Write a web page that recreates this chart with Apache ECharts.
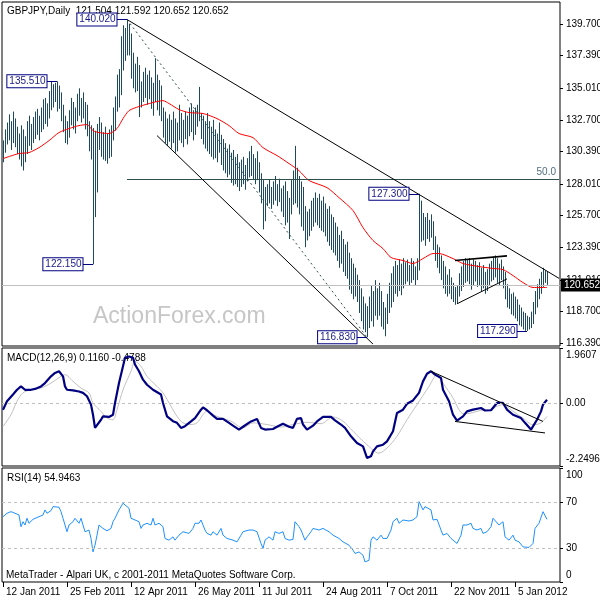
<!DOCTYPE html>
<html><head><meta charset="utf-8">
<script src="https://cdn.jsdelivr.net/npm/echarts@6/dist/echarts.min.js"></script>
<style>html,body{margin:0;padding:0;background:#fff}#c{width:600px;height:600px}</style>
</head><body><div id="c"></div>
<script>
// ---------- DATA ----------
const highs = [
131.2,132.0,132.5,133.1,132.6,133.3,132.8,132.2,131.7,132.3,
132.0,131.5,132.6,133.0,132.4,132.9,133.3,133.5,133.0,133.6,
134.2,134.3,133.9,134.8,135.5,135.3,135.4,135.51,135.2,134.7,
133.8,133.0,132.6,133.4,134.3,134.0,133.6,134.6,135.0,134.3,
134.7,134.0,133.8,132.6,132.3,132.1,131.9,132.4,132.9,132.5,
131.8,132.2,131.7,132.0,132.3,133.6,134.4,136.0,136.4,138.8,
139.6,139.4,140.02,139.7,139.0,137.6,136.8,137.3,136.7,135.5,
136.2,136.5,136.0,136.3,135.8,135.4,137.2,136.0,135.6,135.2,
133.6,133.3,132.8,133.1,132.7,133.3,132.8,132.5,133.8,133.2,
132.7,133.3,133.0,133.6,133.9,133.4,133.6,133.8,135.1,133.2,
133.0,132.6,133.2,132.6,132.2,132.7,132.0,131.7,132.5,131.6,
131.3,131.0,130.6,130.9,130.3,130.5,130.0,130.2,129.6,129.8,
130.0,129.4,129.9,130.4,130.8,130.2,129.9,130.4,129.6,128.8,
128.3,127.8,128.0,128.3,127.8,128.2,128.6,128.0,128.4,127.7,
127.9,128.2,127.5,127.0,128.3,129.0,130.8,129.2,128.6,128.2,
127.8,126.4,126.0,126.2,126.8,127.0,127.4,127.0,127.3,126.8,
127.1,126.6,126.2,126.4,125.8,125.6,125.2,124.9,124.3,124.6,
124.0,123.6,123.8,123.0,122.6,122.2,121.9,121.4,121.0,120.4,
119.8,119.3,119.1,119.8,120.6,120.2,121.0,120.4,120.8,120.2,
119.4,119.0,120.0,120.8,121.5,122.0,122.4,122.1,122.5,122.2,
122.6,122.3,122.5,122.1,122.6,122.4,122.0,122.6,127.3,126.8,
125.9,125.6,125.9,125.4,125.8,125.3,124.2,123.6,123.4,122.8,
122.4,122.0,121.4,121.8,121.2,120.8,120.5,120.6,121.5,122.0,
122.4,122.6,122.5,122.6,122.2,122.5,122.4,122.1,122.3,121.9,
122.1,121.6,121.8,122.2,122.4,122.7,122.8,122.6,122.2,122.5,
122.0,121.6,120.7,120.4,120.0,120.1,119.8,119.6,119.2,119.0,
118.7,118.6,118.4,118.3,118.7,119.4,120.2,120.7,121.1,121.6,
121.9,121.7,121.592];
const lows = [
129.6,130.3,130.9,131.2,130.5,131.0,130.7,130.2,129.8,129.3,
129.0,129.6,130.2,130.8,130.5,131.0,131.3,131.6,131.2,131.8,
132.0,132.4,132.2,132.8,133.4,133.6,134.0,133.3,133.5,132.6,
131.8,131.0,130.9,131.4,132.3,132.0,131.7,132.6,133.0,132.5,
132.8,132.0,131.5,130.4,129.8,122.15,125.6,127.4,130.5,130.0,
129.8,129.7,129.5,129.9,130.0,131.2,131.9,133.3,133.6,134.5,
136.3,137.0,137.4,137.4,135.7,135.0,134.7,134.8,132.9,133.6,
134.0,134.3,133.8,134.2,133.5,133.0,134.0,133.4,133.0,132.6,
131.4,131.0,130.8,131.1,130.6,131.0,130.3,130.4,131.2,131.0,
130.7,131.3,130.9,131.5,131.8,131.2,131.6,132.2,132.6,131.3,
130.9,130.6,130.4,130.2,130.0,129.8,129.9,129.6,130.3,129.4,
129.0,128.8,128.5,128.7,128.1,127.9,128.0,127.8,127.5,127.8,
128.0,127.6,128.2,128.5,128.6,128.3,128.0,128.3,127.4,126.6,
124.7,125.3,126.4,126.6,126.2,126.5,126.8,126.4,126.7,126.0,
125.6,125.0,125.2,124.0,125.8,126.5,126.6,126.3,125.8,124.9,
124.6,123.4,123.9,124.2,124.6,124.9,125.2,125.0,124.8,124.6,
124.5,124.2,123.8,123.5,123.2,123.0,122.8,122.4,121.9,122.2,
121.6,121.3,121.1,120.3,120.0,119.6,119.8,119.4,118.6,118.0,
117.4,117.2,116.83,117.5,118.0,117.6,118.4,118.1,118.4,117.6,
117.4,116.9,117.8,118.6,119.0,119.4,120.0,119.8,120.2,119.9,
120.4,120.7,120.9,120.6,120.8,121.0,120.6,121.0,121.7,123.8,
123.9,123.5,124.0,123.8,124.1,123.2,122.4,121.9,121.5,121.0,
120.4,120.0,119.8,120.0,119.6,119.4,119.2,119.3,119.8,120.2,
120.5,120.8,120.9,120.7,120.3,120.6,120.9,120.5,120.6,120.2,
120.4,120.0,120.2,120.6,120.9,121.0,121.2,120.8,120.6,121.0,
120.4,119.6,119.0,118.9,118.5,118.4,118.2,118.0,117.7,117.6,
117.4,117.3,117.29,117.4,117.5,117.8,118.5,119.0,119.6,120.0,
120.5,120.8,120.652];
// moving average, [bar, value]
const maPts = [[0,129.87],[8,130.24],[13,130.31],[18,130.67],[23,131.18],[28,131.77],[33,132.06],[38,132.28],[42,132.35],[45,131.91],[48,131.77],[53,131.70],[57,132.06],[60,132.79],[63,133.37],[68,133.67],[75,133.96],[80,134.10],[83,133.89],[88,133.45],[93,133.23],[100,133.16],[107,132.79],[113,132.28],[118,131.70],[125,131.40],[130,130.67],[137,130.09],[143,129.51],[148,128.99],[153,128.27],[162,127.75],[168,127.02],[175,126.08],[180,124.83],[185,123.89],[190,123.30],[194,122.65],[200,122.43],[205,122.21],[210,122.57],[215,122.94],[218,122.94],[225,122.57],[230,122.21],[238,121.99],[245,121.85],[250,121.77],[255,121.33],[260,120.82],[265,120.46],[272,120.46]];
const macdPts = [[0,-0.24],[2,0.06],[5,0.30],[7,0.47],[9,0.59],[11,0.47],[14,0.47],[16,0.50],[19,0.59],[21,0.71],[24,0.95],[26,1.07],[28,1.13],[30,0.95],[31,0.59],[32,0.47],[35,0.45],[38,0.41],[40,0.36],[42,0.24],[44,-0.06],[45,-0.42],[46,-0.89],[47,-0.83],[49,-0.60],[50,-0.48],[53,-0.50],[55,-0.42],[56,0],[58,0.71],[60,1.31],[61,1.61],[63,1.66],[65,1.61],[66,1.37],[68,1.13],[70,0.83],[72,0.65],[75,0.47],[76,0.41],[79,0.30],[80,0],[82,-0.48],[85,-0.65],[87,-0.71],[89,-0.89],[91,-0.83],[94,-0.66],[96,-0.54],[99,-0.24],[100,-0.16],[102,-0.26],[105,-0.45],[107,-0.57],[110,-0.57],[113,-0.71],[115,-0.81],[118,-0.95],[120,-0.85],[124,-0.66],[127,-0.57],[129,-0.89],[131,-0.95],[135,-0.93],[137,-0.85],[140,-0.74],[143,-0.85],[145,-0.89],[147,-0.57],[149,-0.54],[150,-0.77],[152,-0.95],[155,-0.81],[157,-0.66],[160,-0.50],[164,-0.50],[166,-0.62],[169,-0.77],[171,-0.89],[174,-1.19],[177,-1.43],[180,-1.55],[182,-1.96],[184,-1.90],[185,-1.73],[187,-1.55],[190,-1.49],[192,-1.37],[195,-1.01],[197,-0.36],[200,-0.24],[202,-0.03],[205,0.09],[208,0.36],[210,0.77],[212,1.04],[214,1.13],[216,1.01],[219,0.89],[220,0.47],[223,0.06],[225,-0.42],[227,-0.63],[230,-0.48],[232,-0.30],[235,-0.24],[239,-0.18],[241,-0.27],[244,-0.26],[247,0.00],[250,0.00],[252,-0.24],[255,-0.42],[259,-0.54],[261,-0.71],[264,-0.95],[265,-0.89],[267,-0.60],[269,-0.30],[270,-0.06],[272,0.116]];
const signalPts = [[0,-0.84],[4,-0.42],[7,0.06],[10,0.36],[14,0.47],[19,0.53],[24,0.71],[29,0.95],[31,1.01],[35,0.77],[39,0.53],[43,0.36],[45,0],[49,-0.30],[52,-0.54],[55,-0.60],[57,-0.24],[60,0.47],[64,1.13],[66,1.49],[69,1.31],[72,0.95],[77,0.59],[80,0.36],[84,-0.12],[87,-0.48],[90,-0.71],[94,-0.77],[97,-0.71],[102,-0.30],[107,-0.48],[114,-0.65],[120,-0.89],[125,-0.71],[132,-0.77],[139,-0.86],[145,-0.77],[152,-0.69],[159,-0.74],[165,-0.50],[170,-0.65],[175,-1.01],[182,-1.49],[188,-1.79],[192,-1.61],[197,-1.19],[202,-0.60],[207,-0.06],[213,0.59],[217,1.01],[220,0.71],[225,0.18],[228,-0.24],[230,-0.38],[234,-0.36],[239,-0.26],[244,-0.24],[247,-0.12],[250,-0.06],[255,-0.30],[260,-0.54],[265,-0.78],[269,-0.71],[272,-0.479]];
const rsiPts = [[0,57.3],[2,60.3],[4,61.7],[5,62.6],[6,60.3],[7,61.7],[8,58.8],[9,48.5],[10,52.9],[11,50.0],[12,55.9],[13,51.5],[15,55.0],[16,55.9],[18,57.3],[20,58.8],[21,63.2],[22,60.3],[24,62.6],[25,66.1],[26,64.7],[28,65.6],[29,61.7],[30,55.9],[31,50.0],[32,44.1],[33,50.0],[35,52.9],[36,55.9],[38,51.5],[39,55.9],[40,50.0],[41,44.1],[43,45.6],[44,38.2],[45,26.4],[46,32.3],[47,41.1],[48,50.0],[49,51.5],[50,47.0],[52,44.9],[54,47.0],[55,52.9],[56,55.9],[58,63.2],[60,69.1],[61,67.6],[63,64.7],[64,55.9],[66,54.4],[68,52.9],[69,47.0],[70,50.0],[72,51.5],[74,50.0],[75,55.9],[76,50.0],[78,51.5],[80,48.5],[81,38.2],[83,36.7],[85,39.6],[86,36.7],[88,41.1],[90,44.1],[91,45.6],[93,42.6],[95,47.0],[96,51.5],[98,51.5],[99,54.4],[100,55.9],[101,45.6],[102,42.6],[104,41.1],[105,44.1],[107,41.1],[109,47.0],[110,41.1],[112,38.2],[113,39.6],[115,36.7],[117,35.2],[119,41.1],[120,44.1],[123,45.6],[125,45.6],[127,44.1],[129,33.8],[130,29.4],[131,36.7],[133,39.6],[135,36.7],[136,44.1],[138,42.6],[140,44.1],[141,38.2],[143,36.7],[145,37.4],[146,52.9],[148,48.5],[149,45.6],[150,44.1],[151,36.7],[152,39.6],[154,44.1],[155,47.0],[158,45.6],[160,47.0],[163,44.1],[165,41.1],[168,38.2],[170,35.2],[171,36.7],[173,32.3],[175,27.9],[176,25.0],[178,26.4],[180,23.5],[181,17.6],[182,16.2],[183,19.1],[184,36.7],[185,39.6],[187,36.7],[189,41.1],[190,38.2],[192,38.2],[194,45.6],[195,52.9],[197,55.9],[198,51.5],[200,54.4],[203,53.5],[205,54.4],[207,57.3],[208,70.5],[210,63.2],[211,66.1],[214,63.2],[215,54.4],[217,55.0],[219,45.6],[220,41.1],[222,42.6],[224,38.2],[225,37.4],[227,33.8],[229,41.1],[230,50.0],[232,50.0],[234,51.5],[235,47.0],[237,45.6],[239,47.0],[240,42.6],[242,44.1],[244,48.5],[245,55.9],[246,57.3],[248,50.0],[250,52.9],[251,39.6],[253,36.7],[255,41.1],[256,36.7],[258,35.2],[260,30.8],[261,29.4],[263,30.3],[265,33.8],[266,47.0],[268,51.5],[269,52.9],[270,61.7],[272,54.95]];
const priceTicks = [116.39,118.70,121.01,123.39,125.70,128.01,130.39,132.70,135.01,137.39,139.70];
const macdTicks = [1.9607, 0, -2.2496];
const rsiTicks = [100, 70, 30, 0];
const rsiLevels = [30, 70];
const dateLabels = ['12 Jan 2011','25 Feb 2011','12 Apr 2011','26 May 2011','11 Jul 2011','24 Aug 2011','7 Oct 2011','22 Nov 2011','5 Jan 2012'];
const labelEvery = 32;
const extraSlots = 6;
const pivots = [[62,140.02],[27,135.51],[45,122.15],[182,116.83],[262,117.29],[208,127.30]];
const lastPrice = 120.652;
const fibLevel = 128.33;
const fibText = '50.0';
const priceTrends = [[[62,140.02],[278,121.13]], [[77,131.55],[185,116.33]]];
const priceDashed = [[62,140.02],[182,116.83]];
const triangleTop = [[226,122.43],[252,122.77]];
const triangleBottom = [[227,119.27],[252,121.09]];
const macdTrends = [[[214,1.13],[270,-0.66]], [[226,-0.66],[271,-1.07]]];
const titleText = 'GBPJPY,Daily  121.504 121.592 120.652 120.652';
const macdText = 'MACD(12,26,9) 0.1160 -0.4788';
const rsiText = 'RSI(14) 54.9463';
const footText = 'MetaTrader - Alpari UK, c 2001-2011 MetaQuotes Software Corp.';
const watermark = 'ActionForex.com';

// ---------- CHART ----------
const FONT = "'Liberation Sans',Arial,sans-serif";
const FS = 10;
const BAR = '#1c4b5f', NAVY = '#000080';
const n = highs.length + extraSlots;
const cats = Array.from({length: n}, (_, i) => 'b' + i);
const bars = highs.map((h, i) => [i, lows[i], h]);
const showTick = (i) => i % labelEvery === 0 && i / labelEvery < dateLabels.length;

const grids = [
  {left: 2, right: 40, top: 2, height: 344},
  {left: 2, right: 40, top: 348, height: 118},
  {left: 2, right: 40, top: 468, height: 114}
].map(g => Object.assign(g, {show: true, borderColor: '#000', borderWidth: 1, backgroundColor: 'transparent',
  containLabel: false, outerBoundsMode: 'none'}));

const xAxes = [0, 1, 2].map(gi => ({
  type: 'category', gridIndex: gi, data: cats, boundaryGap: true, show: gi === 2,
  axisLine: {show: false},
  axisTick: {show: gi === 2, alignWithLabel: true, interval: (i) => showTick(i), length: 5, lineStyle: {color: '#000'}},
  axisLabel: {show: gi === 2, interval: (i) => showTick(i), formatter: (v, i) => dateLabels[i / labelEvery],
    align: 'left', padding: [0, 0, 0, 3], margin: 5, color: '#000', fontSize: FS, fontFamily: FONT},
  splitLine: {show: false}
}));

const edgeRich = {
  t: {padding: [14, 0, 0, 0], color: '#000', fontSize: FS, fontFamily: FONT},
  b: {padding: [0, 0, 14, 0], color: '#000', fontSize: FS, fontFamily: FONT}
};
function yAx(gi, min, max, ticks, fmt, edges) {
  return {
    type: 'value', gridIndex: gi, position: 'right', min: min, max: max,
    splitLine: {show: false}, axisLine: {show: false},
    axisTick: {show: true, length: 3, lineStyle: {color: '#000'}, customValues: ticks},
    axisLabel: {customValues: ticks, color: '#000', fontSize: FS, fontFamily: FONT, margin: 6, rich: edgeRich,
      formatter: (v) => {
        const s = fmt(v);
        if (edges && Math.abs(v - max) < 1e-9) return '{t|' + s + '}';
        if (edges && Math.abs(v - min) < 1e-9) return '{b|' + s + '}';
        return s;
      }}
  };
}

const seg = (a, b, style, extra) => [Object.assign({coord: a, lineStyle: style}, extra || {}), {coord: b}];
const blackLine = {color: '#000', width: 1, type: 'solid'};

const priceMarkLines = [
  {yAxis: lastPrice, lineStyle: {color: '#c0c0c0', width: 1, type: 'solid'},
   label: {show: true, position: 'end', distance: 1, formatter: lastPrice.toFixed(3), color: '#fff',
     backgroundColor: '#000', padding: [2, 3, 1, 3], fontSize: FS, fontFamily: FONT}},
  seg([62, fibLevel], [n - 1, fibLevel], {color: '#2f4f4f', width: 1, type: 'solid'},
    {label: {show: true, position: 'insideEndTop', formatter: fibText, color: '#4f6f7f', fontSize: FS, fontFamily: FONT, distance: [3, 2]}}),
  ...priceTrends.map(t => seg(t[0], t[1], blackLine)),
  seg(priceDashed[0], priceDashed[1], {color: '#2f4f4f', width: 1, type: [2, 3]}),
  seg(triangleTop[0], triangleTop[1], {color: '#000', width: 1.6, type: 'solid'}),
  seg(triangleBottom[0], triangleBottom[1], blackLine),
  ...pivots.map(p => seg([p[0] - 5, p[1]], p, {color: NAVY, width: 1, type: 'solid'}))
];

const option = {
  animation: false,
  textStyle: {fontFamily: FONT},
  grid: grids,
  xAxis: xAxes,
  yAxis: [
    yAx(0, 116.19, 141.30, priceTicks, v => v.toFixed(3), false),
    yAx(1, -2.2496, 1.9607, macdTicks, v => Math.abs(v) < 1e-9 ? '0.00' : v.toFixed(4), true),
    yAx(2, 0, 100, rsiTicks, v => String(v), true)
  ],
  graphic: [
    {type: 'text', x: 93, y: 317, z: 0, silent: true, style: {text: watermark, fontSize: 23, fontFamily: FONT, fill: '#c6c6c6', verticalAlign: 'middle'}},
    {type: 'text', x: 7, y: 11, z: 0, silent: true, style: {text: titleText, fontSize: FS, fontFamily: FONT, fill: '#000', verticalAlign: 'middle'}},
    {type: 'text', x: 7, y: 358.5, z: 0, silent: true, style: {text: macdText, fontSize: FS, fontFamily: FONT, fill: '#000', verticalAlign: 'middle'}},
    {type: 'text', x: 7, y: 478.5, z: 0, silent: true, style: {text: rsiText, fontSize: FS, fontFamily: FONT, fill: '#000', verticalAlign: 'middle'}},
    {type: 'text', x: 6, y: 575, z: 0, silent: true, style: {text: footText, fontSize: FS, fontFamily: FONT, fill: '#000', verticalAlign: 'middle'}}
  ],
  series: [
    {type: 'custom', xAxisIndex: 0, yAxisIndex: 0, data: bars, encode: {x: 0, y: [1, 2]}, z: 3, silent: true,
     renderItem: (params, api) => {
       const i = api.value(0);
       const lo = api.coord([i, api.value(1)]);
       const hi = api.coord([i, api.value(2)]);
       const x = Math.round(lo[0]) + 0.5;
       return {type: 'line', shape: {x1: x, y1: lo[1], x2: x, y2: hi[1]}, style: {stroke: BAR, lineWidth: 1}};
     }},
    {type: 'line', xAxisIndex: 0, yAxisIndex: 0, data: maPts, symbol: 'none', smooth: 0.25, z: 4,
     lineStyle: {color: '#ff0000', width: 1},
     markLine: {silent: true, symbol: ['none', 'none'], label: {show: false}, data: priceMarkLines},
     markPoint: {silent: true, symbol: 'circle', symbolSize: 1, itemStyle: {color: 'rgba(0,0,0,0)'},
       label: {show: true, position: 'left', distance: 10, formatter: p => p.value.toFixed(3),
         color: '#1a1a8a', fontSize: FS, fontFamily: FONT, backgroundColor: '#fff', borderColor: NAVY,
         borderWidth: 1, padding: [1, 1, 0, 2], lineHeight: 11},
       data: pivots.map(p => ({coord: p, value: p[1]}))}},
    {type: 'line', xAxisIndex: 1, yAxisIndex: 1, data: signalPts, symbol: 'none', smooth: 0.3, z: 3,
     lineStyle: {color: '#c0c0c0', width: 1},
     markLine: {silent: true, symbol: ['none', 'none'], label: {show: false},
       data: [{yAxis: 0, lineStyle: {color: '#c0c0c0', width: 1, type: [3, 3]}}]}},
    {type: 'line', xAxisIndex: 1, yAxisIndex: 1, data: macdPts, symbol: 'none', z: 4,
     lineStyle: {color: NAVY, width: 2.2},
     markLine: {silent: true, symbol: ['none', 'none'], label: {show: false},
       data: macdTrends.map(t => seg(t[0], t[1], blackLine))}},
    {type: 'line', xAxisIndex: 2, yAxisIndex: 2, data: rsiPts, symbol: 'none', z: 4,
     lineStyle: {color: '#1e90ff', width: 1},
     markLine: {silent: true, symbol: ['none', 'none'], label: {show: false},
       data: rsiLevels.map(v => ({yAxis: v, lineStyle: {color: '#c0c0c0', width: 1, type: [3, 3]}}))}}
  ]
};
const chart = echarts.init(document.getElementById('c'), null, {renderer: 'canvas'});
chart.setOption(option);
</script></body></html>
